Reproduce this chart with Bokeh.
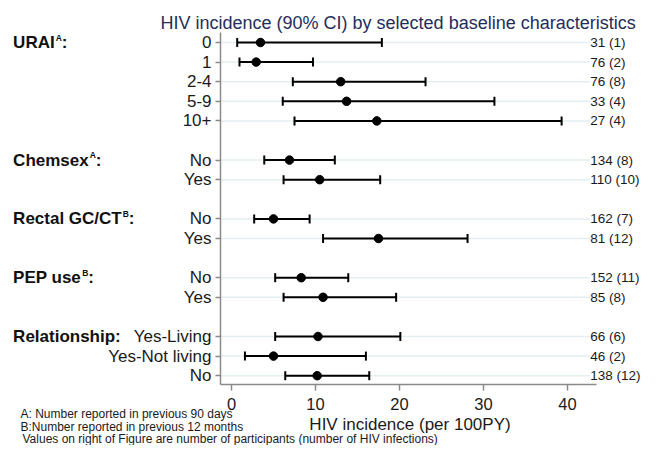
import math
from bokeh.plotting import figure
from bokeh.models import ColumnDataSource, Range1d, FixedTicker
from bokeh.embed import file_html
from bokeh.resources import INLINE
from bokeh.core.properties import value

# ---------------- data ----------------
groups = ["URAI", "Chemsex", "Rectal GC/CT", "PEP use", "Relationship"]
group_sup = ["A", "A", "B", "B", ""]
group_sizes = [5, 2, 2, 2, 3]
categories = ["0", "1", "2-4", "5-9", "10+",
              "No", "Yes",
              "No", "Yes",
              "No", "Yes",
              "Yes-Living", "Yes-Not living", "No"]
estimate = [3.45, 2.94, 13.0, 13.7, 17.3, 6.9, 10.5, 5.0, 17.5, 8.3, 10.9, 10.3, 5.0, 10.2]
ci_low = [0.68, 0.95, 7.3, 6.1, 7.5, 3.9, 6.2, 2.7, 10.9, 5.2, 6.2, 5.2, 1.6, 6.4]
ci_high = [17.9, 9.7, 23.1, 31.3, 39.3, 12.3, 17.7, 9.3, 28.1, 13.9, 19.6, 20.1, 16.0, 16.4]
n_labels = ["31 (1)", "76 (2)", "76 (8)", "33 (4)", "27 (4)", "134 (8)", "110 (10)",
            "162 (7)", "81 (12)", "152 (11)", "85 (8)", "66 (6)", "46 (2)", "138 (12)"]
x_ticks = [0, 10, 20, 30, 40]
title_text = "HIV incidence (90% CI) by selected baseline characteristics"
x_label = "HIV incidence (per 100PY)"
footnotes = ["A: Number reported in previous 90 days",
             "B:Number reported in previous 12 months",
             " Values on right of Figure are number of participants (number of HIV infections)"]

# ---------------- row layout (one empty row between groups) ----------------
rows = []
group_rows = []
r = 0
for size in group_sizes:
    group_rows.append(r)
    for _ in range(size):
        rows.append(r)
        r += 1
    r += 1

FONT = "Liberation Sans"
W, H = 642, 445

# canvas-pixel -> data helpers (layout only)
def px_to_x(px):
    return (px - 231.0) / 8.4

def px_to_y(py):
    return (py - 42.0) / 19.6

XMIN, XMAX = px_to_x(0), px_to_x(W)
YTOP, YBOT = px_to_y(0), px_to_y(H)
AX_X = px_to_x(220)      # where the y axis sits
AX_Y = px_to_y(384)      # where the x axis sits
AX_XEND = px_to_x(596)

p = figure(width=W, height=H, output_backend="svg", toolbar_location=None,
           x_range=Range1d(XMIN, XMAX), y_range=Range1d(YBOT, YTOP),
           min_border=0, outline_line_color=None,
           background_fill_color="white", border_fill_color="white")
p.title.visible = False
p.xgrid.visible = False
p.ygrid.visible = False

AX_COL = "#8a8a8a"
# x axis
xa = p.xaxis[0]
xa.fixed_location = AX_Y
xa.ticker = FixedTicker(ticks=x_ticks)
xa.bounds = (AX_X, AX_XEND)
xa.axis_line_color = AX_COL
xa.axis_line_width = 1.5
xa.major_tick_line_color = AX_COL
xa.major_tick_line_width = 1.5
xa.major_tick_out = 6
xa.major_tick_in = 0
xa.minor_tick_line_color = None
xa.major_label_text_font = FONT
xa.major_label_text_font_size = "16.5px"
xa.major_label_text_color = "#1a1a1a"
xa.major_label_standoff = 7

# y axis
ya = p.yaxis[0]
ya.fixed_location = AX_X
ya.ticker = FixedTicker(ticks=rows)
ya.bounds = (px_to_y(32), AX_Y)
ya.major_label_overrides = {rr: c for rr, c in zip(rows, categories)}
ya.axis_line_color = AX_COL
ya.axis_line_width = 1.5
ya.major_tick_line_color = AX_COL
ya.major_tick_line_width = 1.5
ya.major_tick_out = 5
ya.major_tick_in = 0
ya.minor_tick_line_color = None
ya.major_label_text_font = FONT
ya.major_label_text_font_size = "17px"
ya.major_label_text_color = "#1a1a1a"
ya.major_label_standoff = 4

# grid lines stopping before right labels
GRID_END = 42.7
p.segment(x0=[AX_X] * len(rows), x1=[GRID_END] * len(rows), y0=rows, y1=rows,
          line_color="#e4eef0", line_width=1.5, level="underlay")

src = ColumnDataSource(dict(y=rows, est=estimate, lo=ci_low, hi=ci_high, lab=n_labels,
                            gx=[GRID_END] * len(rows)))
p.segment(x0="lo", x1="hi", y0="y", y1="y", source=src, line_color="black", line_width=2)
p.scatter(x="lo", y="y", source=src, marker="dash", angle=math.pi / 2, size=9,
          line_color="black", line_width=2)
p.scatter(x="hi", y="y", source=src, marker="dash", angle=math.pi / 2, size=9,
          line_color="black", line_width=2)
p.scatter(x="est", y="y", source=src, size=8.5, color="black")

p.text(x="gx", y="y", text="lab", source=src, text_font=value(FONT), text_font_size="13.5px",
       text_baseline="middle", text_align="left", text_color="#1a1a1a")

# approximate Arial Bold advance widths (per 1000 em)
BOLD_W = {"U": 722, "R": 722, "A": 722, "I": 278, "C": 722, "h": 611, "e": 556, "m": 889,
          "s": 556, "x": 556, "c": 556, "t": 333, "a": 556, "l": 278, " ": 278, "G": 778,
          "/": 278, "T": 611, "P": 667, "E": 667, "u": 611, "i": 278, "o": 611, "n": 611,
          "p": 611}

def bold_width(txt, size):
    return sum(BOLD_W.get(ch, 556) for ch in txt) * size / 1000.0

GX = px_to_x(12.6)
g_x = [GX] * len(groups)
p.text(x=g_x, y=group_rows, text=groups, text_font=value(FONT), text_font_size="17px",
       text_font_style="bold", text_baseline="middle", text_align="left", text_color="#111111")
sup_off, colon_off, sup_txt, sup_rows = [], [], [], []
for g, sup, gr in zip(groups, group_sup, group_rows):
    off = bold_width(g, 17)
    if sup:
        sup_off.append(off + 1)
        sup_txt.append(sup)
        sup_rows.append(gr)
        off += 7
    colon_off.append(off)
p.text(x=[GX] * len(sup_txt), y=sup_rows, text=sup_txt, x_offset=sup_off, y_offset=-5,
       text_font=value(FONT), text_font_size="8.5px", text_font_style="bold",
       text_baseline="middle", text_align="left", text_color="#111111")
p.text(x=g_x, y=group_rows, text=[":"] * len(groups), x_offset=colon_off,
       text_font=value(FONT), text_font_size="17px", text_font_style="bold",
       text_baseline="middle", text_align="left", text_color="#111111")

p.text(x=[px_to_x(160)], y=[px_to_y(22)], text=[title_text], text_font=value(FONT),
       text_font_size="18px", text_baseline="middle", text_align="left", text_color="#1f2d5c")
p.text(x=[px_to_x(409.5)], y=[px_to_y(423.5)], text=[x_label], text_font=value(FONT),
       text_font_size="17px", text_baseline="middle", text_align="center", text_color="#1a1a1a")
p.text(x=[px_to_x(20), px_to_x(20), px_to_x(22)],
       y=[px_to_y(413), px_to_y(426), px_to_y(438.5)], text=footnotes,
       text_font=value(FONT), text_font_size="12px", text_baseline="middle",
       text_align="left", text_color="#1a1a1a")

open("out.html", "w").write(file_html(p, INLINE))
